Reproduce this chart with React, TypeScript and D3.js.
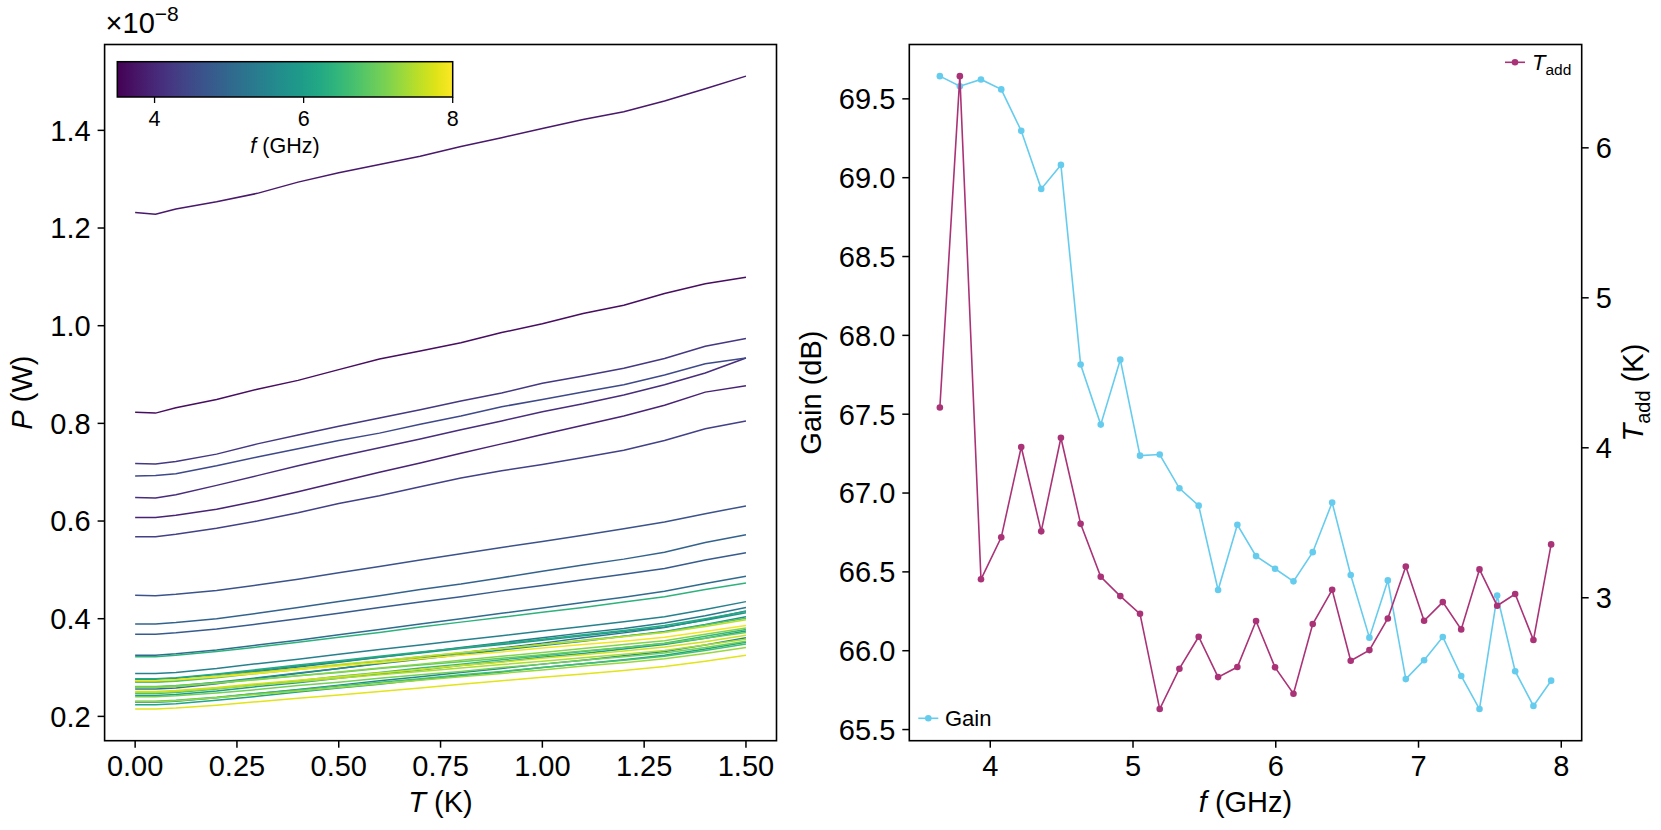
import React from "react";
import * as d3 from "d3";

// temperatures (K) at which the output power was recorded
const tempK = [0, 0.05, 0.1, 0.2, 0.3, 0.4, 0.5, 0.6, 0.7, 0.8, 0.9, 1.0, 1.1, 1.2, 1.3, 1.4, 1.5];

// measurement frequencies (GHz)
const freqGHz = [
  3.647, 3.787, 3.935, 4.077, 4.217, 4.357, 4.495, 4.633, 4.774, 4.911, 5.049,
  5.187, 5.325, 5.46, 5.596, 5.731, 5.862, 5.995, 6.124, 6.259, 6.395, 6.525,
  6.656, 6.785, 6.911, 7.039, 7.17, 7.299, 7.427, 7.551, 7.677, 7.805, 7.929,
];

const gainDb = [
  69.644, 69.58, 69.623, 69.56, 69.297, 68.929, 69.081, 67.815, 67.434, 67.846,
  67.237, 67.244, 67.03, 66.92, 66.385, 66.799, 66.6, 66.52, 66.44, 66.625,
  66.94, 66.48, 66.083, 66.446, 65.82, 65.94, 66.087, 65.84, 65.63, 66.35,
  65.87, 65.65, 65.81,
];

const tAddK = [
  4.269, 6.478, 3.123, 3.403, 4.005, 3.443, 4.067, 3.493, 3.14, 3.011, 2.893,
  2.258, 2.527, 2.74, 2.471, 2.538, 2.845, 2.536, 2.36, 2.825, 3.053, 2.58,
  2.651, 2.862, 3.209, 2.847, 2.971, 2.789, 3.189, 2.947, 3.025, 2.718, 3.356,
];

// P (x1e-8 W) vs tempK, one row per frequency (same order as freqGHz)
const powerE8 = [
  [0.823, 0.821, 0.832, 0.849, 0.870, 0.888, 0.910, 0.932, 0.948, 0.965, 0.986, 1.004, 1.025, 1.042, 1.066, 1.086, 1.099],
  [1.232, 1.228, 1.239, 1.254, 1.271, 1.294, 1.313, 1.330, 1.347, 1.367, 1.385, 1.404, 1.422, 1.438, 1.460, 1.485, 1.511],
  [0.607, 0.607, 0.612, 0.624, 0.641, 0.660, 0.680, 0.700, 0.719, 0.739, 0.758, 0.777, 0.796, 0.815, 0.837, 0.864, 0.877],
  [0.648, 0.647, 0.654, 0.673, 0.693, 0.713, 0.732, 0.750, 0.768, 0.787, 0.805, 0.824, 0.840, 0.858, 0.879, 0.903, 0.934],
  [0.718, 0.717, 0.722, 0.737, 0.758, 0.776, 0.794, 0.811, 0.828, 0.846, 0.862, 0.882, 0.897, 0.913, 0.933, 0.958, 0.974],
  [0.568, 0.568, 0.573, 0.585, 0.600, 0.617, 0.636, 0.652, 0.670, 0.688, 0.703, 0.716, 0.730, 0.745, 0.765, 0.789, 0.805],
  [0.692, 0.693, 0.697, 0.713, 0.731, 0.748, 0.765, 0.780, 0.798, 0.815, 0.834, 0.849, 0.864, 0.879, 0.899, 0.922, 0.934],
  [0.448, 0.447, 0.450, 0.458, 0.469, 0.481, 0.494, 0.507, 0.520, 0.533, 0.546, 0.558, 0.571, 0.584, 0.598, 0.615, 0.631],
  [0.368, 0.368, 0.371, 0.379, 0.389, 0.400, 0.411, 0.423, 0.434, 0.445, 0.457, 0.468, 0.480, 0.491, 0.503, 0.520, 0.535],
  [0.389, 0.389, 0.392, 0.400, 0.411, 0.423, 0.435, 0.447, 0.460, 0.471, 0.484, 0.497, 0.510, 0.522, 0.536, 0.556, 0.572],
  [0.325, 0.325, 0.328, 0.336, 0.346, 0.356, 0.367, 0.378, 0.389, 0.400, 0.411, 0.422, 0.433, 0.444, 0.456, 0.472, 0.487],
  [0.256, 0.256, 0.258, 0.267, 0.278, 0.288, 0.298, 0.309, 0.319, 0.330, 0.340, 0.350, 0.361, 0.371, 0.382, 0.398, 0.416],
  [0.271, 0.271, 0.273, 0.282, 0.292, 0.301, 0.311, 0.321, 0.331, 0.341, 0.351, 0.361, 0.371, 0.380, 0.391, 0.406, 0.423],
  [0.288, 0.288, 0.290, 0.298, 0.308, 0.317, 0.327, 0.337, 0.346, 0.356, 0.365, 0.375, 0.384, 0.394, 0.404, 0.419, 0.435],
  [0.229, 0.229, 0.231, 0.238, 0.247, 0.255, 0.264, 0.273, 0.281, 0.290, 0.298, 0.307, 0.315, 0.324, 0.333, 0.346, 0.361],
  [0.260, 0.260, 0.262, 0.270, 0.279, 0.289, 0.298, 0.308, 0.317, 0.326, 0.336, 0.345, 0.354, 0.364, 0.374, 0.388, 0.404],
  [0.276, 0.276, 0.278, 0.286, 0.294, 0.303, 0.312, 0.321, 0.330, 0.339, 0.347, 0.356, 0.365, 0.374, 0.383, 0.397, 0.412],
  [0.243, 0.243, 0.245, 0.252, 0.261, 0.269, 0.278, 0.287, 0.295, 0.304, 0.312, 0.321, 0.329, 0.338, 0.347, 0.360, 0.375],
  [0.224, 0.224, 0.226, 0.233, 0.241, 0.250, 0.258, 0.266, 0.275, 0.283, 0.291, 0.300, 0.308, 0.316, 0.325, 0.338, 0.352],
  [0.277, 0.277, 0.279, 0.287, 0.296, 0.305, 0.314, 0.323, 0.332, 0.340, 0.349, 0.358, 0.367, 0.376, 0.386, 0.400, 0.415],
  [0.322, 0.322, 0.325, 0.333, 0.342, 0.352, 0.362, 0.372, 0.383, 0.393, 0.403, 0.413, 0.423, 0.434, 0.445, 0.460, 0.473],
  [0.247, 0.247, 0.249, 0.256, 0.265, 0.273, 0.282, 0.290, 0.299, 0.307, 0.316, 0.324, 0.333, 0.341, 0.350, 0.364, 0.378],
  [0.231, 0.231, 0.233, 0.239, 0.247, 0.254, 0.262, 0.270, 0.277, 0.285, 0.292, 0.300, 0.308, 0.315, 0.323, 0.335, 0.348],
  [0.270, 0.270, 0.272, 0.279, 0.288, 0.296, 0.305, 0.313, 0.322, 0.330, 0.339, 0.347, 0.356, 0.364, 0.373, 0.387, 0.401],
  [0.261, 0.261, 0.263, 0.269, 0.276, 0.283, 0.290, 0.298, 0.305, 0.312, 0.319, 0.326, 0.334, 0.341, 0.349, 0.360, 0.372],
  [0.240, 0.240, 0.242, 0.248, 0.255, 0.263, 0.270, 0.278, 0.285, 0.292, 0.300, 0.307, 0.315, 0.322, 0.330, 0.341, 0.354],
  [0.259, 0.259, 0.261, 0.268, 0.275, 0.283, 0.291, 0.299, 0.307, 0.315, 0.323, 0.331, 0.339, 0.347, 0.355, 0.368, 0.381],
  [0.230, 0.230, 0.232, 0.238, 0.245, 0.252, 0.259, 0.267, 0.274, 0.281, 0.288, 0.295, 0.303, 0.310, 0.318, 0.329, 0.341],
  [0.249, 0.249, 0.251, 0.257, 0.264, 0.271, 0.278, 0.285, 0.292, 0.299, 0.306, 0.313, 0.320, 0.327, 0.335, 0.346, 0.358],
  [0.273, 0.273, 0.275, 0.282, 0.290, 0.298, 0.306, 0.314, 0.322, 0.331, 0.339, 0.347, 0.355, 0.363, 0.372, 0.384, 0.398],
  [0.251, 0.251, 0.253, 0.259, 0.267, 0.274, 0.281, 0.289, 0.296, 0.304, 0.311, 0.319, 0.326, 0.334, 0.342, 0.353, 0.366],
  [0.215, 0.215, 0.217, 0.223, 0.230, 0.237, 0.244, 0.251, 0.258, 0.266, 0.273, 0.280, 0.287, 0.294, 0.302, 0.313, 0.325],
  [0.273, 0.273, 0.275, 0.281, 0.288, 0.296, 0.303, 0.310, 0.318, 0.325, 0.332, 0.340, 0.347, 0.354, 0.362, 0.374, 0.386],
];

const tTicks = [0, 0.25, 0.5, 0.75, 1.0, 1.25, 1.5];
const pTicks = [0.2, 0.4, 0.6, 0.8, 1.0, 1.2, 1.4];
const fTicks = [4, 5, 6, 7, 8];
const gainTicks = [65.5, 66.0, 66.5, 67.0, 67.5, 68.0, 68.5, 69.0, 69.5];
const tAddTicks = [3, 4, 5, 6];
const cbarTicks = [4, 6, 8];
const cbarRange = [3.5, 8];

const W = 1661;
const H = 830;
const FONT = "'Liberation Sans', Arial, Helvetica, sans-serif";
const GAIN_COLOR = "#66CCEE";
const TADD_COLOR = "#AA3377";
const TICK = 7;

const left = { x0: 104.6, x1: 776.5, y0: 44.5, y1: 740.7 };
const right = { x0: 909.3, x1: 1581.7, y0: 44.5, y1: 740.7 };

// matplotlib-like 5% data margins
const padded = (vals: number[]) => {
  const [lo, hi] = d3.extent(vals) as [number, number];
  const m = (hi - lo) * 0.05;
  return [lo - m, hi + m];
};

export default function App() {
  const xT = d3.scaleLinear().domain(padded(tempK)).range([left.x0, left.x1]);
  const yP = d3.scaleLinear().domain(padded(powerE8.flat())).range([left.y1, left.y0]);
  const xF = d3.scaleLinear().domain(padded(freqGHz)).range([right.x0, right.x1]);
  const yG = d3.scaleLinear().domain(padded(gainDb)).range([right.y1, right.y0]);
  const yA = d3.scaleLinear().domain(padded(tAddK)).range([right.y1, right.y0]);

  const cb = { x0: 117.3, x1: 452.7, y0: 61.7, y1: 97 };
  const xC = d3.scaleLinear().domain(cbarRange).range([cb.x0, cb.x1]);
  const color = (f: number) =>
    d3.interpolateViridis((f - cbarRange[0]) / (cbarRange[1] - cbarRange[0]));

  const pLine = d3
    .line<number>()
    .x((_, i) => xT(tempK[i]))
    .y((d) => yP(d));
  const gainLine = d3
    .line<number>()
    .x((_, i) => xF(freqGHz[i]))
    .y((d) => yG(d));
  const tAddLine = d3
    .line<number>()
    .x((_, i) => xF(freqGHz[i]))
    .y((d) => yA(d));

  const stops = d3.range(0, 1.0001, 0.05);

  return (
    <svg
      width={W}
      height={H}
      style={{ position: "absolute", left: 0, top: 0, background: "#fff" }}
      fontFamily={FONT}
    >
      <defs>
        <linearGradient id="viridis" x1="0" x2="1" y1="0" y2="0">
          {stops.map((s) => (
            <stop key={s} offset={s} stopColor={d3.interpolateViridis(s)} />
          ))}
        </linearGradient>
      </defs>
      <rect width={W} height={H} fill="#fff" />

      {/* ---------- left panel: P vs T ---------- */}
      <g>
        {powerE8.map((row, i) => (
          <path
            key={i}
            d={pLine(row) || ""}
            fill="none"
            stroke={color(freqGHz[i])}
            strokeWidth={1.5}
          />
        ))}
        <rect
          x={left.x0}
          y={left.y0}
          width={left.x1 - left.x0}
          height={left.y1 - left.y0}
          fill="none"
          stroke="#000"
          strokeWidth={1.6}
        />
        {tTicks.map((t) => (
          <g key={t}>
            <line x1={xT(t)} x2={xT(t)} y1={left.y1} y2={left.y1 + TICK} stroke="#000" strokeWidth={1.5} />
            <text x={xT(t)} y={776} fontSize={29} textAnchor="middle">
              {d3.format(".2f")(t)}
            </text>
          </g>
        ))}
        {pTicks.map((p) => (
          <g key={p}>
            <line x1={left.x0 - TICK} x2={left.x0} y1={yP(p)} y2={yP(p)} stroke="#000" strokeWidth={1.5} />
            <text x={left.x0 - 14} y={yP(p) + 10.4} fontSize={29} textAnchor="end">
              {d3.format(".1f")(p)}
            </text>
          </g>
        ))}
        <text x={(left.x0 + left.x1) / 2} y={812} fontSize={29} textAnchor="middle">
          <tspan fontStyle="italic">T</tspan>
          <tspan> (K)</tspan>
        </text>
        <text transform={`translate(32,${(left.y0 + left.y1) / 2}) rotate(-90)`} fontSize={29} textAnchor="middle">
          <tspan fontStyle="italic">P</tspan>
          <tspan> (W)</tspan>
        </text>
        <text x={left.x0 + 1} y={33} fontSize={29}>
          <tspan>×10</tspan>
          <tspan fontSize={21} dy={-12}>−8</tspan>
        </text>

        {/* colorbar */}
        <rect x={cb.x0} y={cb.y0} width={cb.x1 - cb.x0} height={cb.y1 - cb.y0} fill="url(#viridis)" stroke="#000" strokeWidth={1.5} />
        {cbarTicks.map((f) => (
          <g key={f}>
            <line x1={xC(f)} x2={xC(f)} y1={cb.y1} y2={cb.y1 + 6} stroke="#000" strokeWidth={1.3} />
            <text x={xC(f)} y={126} fontSize={21.5} textAnchor="middle">
              {f}
            </text>
          </g>
        ))}
        <text x={(cb.x0 + cb.x1) / 2} y={153} fontSize={21.5} textAnchor="middle">
          <tspan fontStyle="italic">f</tspan>
          <tspan> (GHz)</tspan>
        </text>
      </g>

      {/* ---------- right panel: Gain and T_add vs f ---------- */}
      <g>
        <path d={gainLine(gainDb) || ""} fill="none" stroke={GAIN_COLOR} strokeWidth={1.6} />
        {gainDb.map((g, i) => (
          <circle key={i} cx={xF(freqGHz[i])} cy={yG(g)} r={3.3} fill={GAIN_COLOR} />
        ))}
        <path d={tAddLine(tAddK) || ""} fill="none" stroke={TADD_COLOR} strokeWidth={1.6} />
        {tAddK.map((t, i) => (
          <circle key={i} cx={xF(freqGHz[i])} cy={yA(t)} r={3.3} fill={TADD_COLOR} />
        ))}
        <rect
          x={right.x0}
          y={right.y0}
          width={right.x1 - right.x0}
          height={right.y1 - right.y0}
          fill="none"
          stroke="#000"
          strokeWidth={1.6}
        />
        {fTicks.map((f) => (
          <g key={f}>
            <line x1={xF(f)} x2={xF(f)} y1={right.y1} y2={right.y1 + TICK} stroke="#000" strokeWidth={1.5} />
            <text x={xF(f)} y={776} fontSize={29} textAnchor="middle">
              {f}
            </text>
          </g>
        ))}
        {gainTicks.map((g) => (
          <g key={g}>
            <line x1={right.x0 - TICK} x2={right.x0} y1={yG(g)} y2={yG(g)} stroke="#000" strokeWidth={1.5} />
            <text x={right.x0 - 14} y={yG(g) + 10.4} fontSize={29} textAnchor="end">
              {d3.format(".1f")(g)}
            </text>
          </g>
        ))}
        {tAddTicks.map((t) => (
          <g key={t}>
            <line x1={right.x1} x2={right.x1 + TICK} y1={yA(t)} y2={yA(t)} stroke="#000" strokeWidth={1.5} />
            <text x={right.x1 + 14} y={yA(t) + 10.4} fontSize={29} textAnchor="start">
              {t}
            </text>
          </g>
        ))}
        <text x={(right.x0 + right.x1) / 2} y={812} fontSize={29} textAnchor="middle">
          <tspan fontStyle="italic">f</tspan>
          <tspan> (GHz)</tspan>
        </text>
        <text transform={`translate(821,${(right.y0 + right.y1) / 2}) rotate(-90)`} fontSize={29} textAnchor="middle">
          Gain (dB)
        </text>
        <text transform={`translate(1643,${(right.y0 + right.y1) / 2}) rotate(-90)`} fontSize={29} textAnchor="middle">
          <tspan fontStyle="italic">T</tspan>
          <tspan fontSize={20} dy={7}>add</tspan>
          <tspan dy={-7}> (K)</tspan>
        </text>

        {/* legends */}
        <line x1={918.3} x2={938.3} y1={718.3} y2={718.3} stroke={GAIN_COLOR} strokeWidth={1.6} />
        <circle cx={928.3} cy={718.3} r={3.3} fill={GAIN_COLOR} />
        <text x={945} y={726} fontSize={22}>
          Gain
        </text>
        <line x1={1505} x2={1525} y1={62.3} y2={62.3} stroke={TADD_COLOR} strokeWidth={1.6} />
        <circle cx={1515} cy={62.3} r={3.3} fill={TADD_COLOR} />
        <text x={1532} y={70} fontSize={22}>
          <tspan fontStyle="italic">T</tspan>
          <tspan fontSize={15.5} dy={5}>add</tspan>
        </text>
      </g>
    </svg>
  );
}
